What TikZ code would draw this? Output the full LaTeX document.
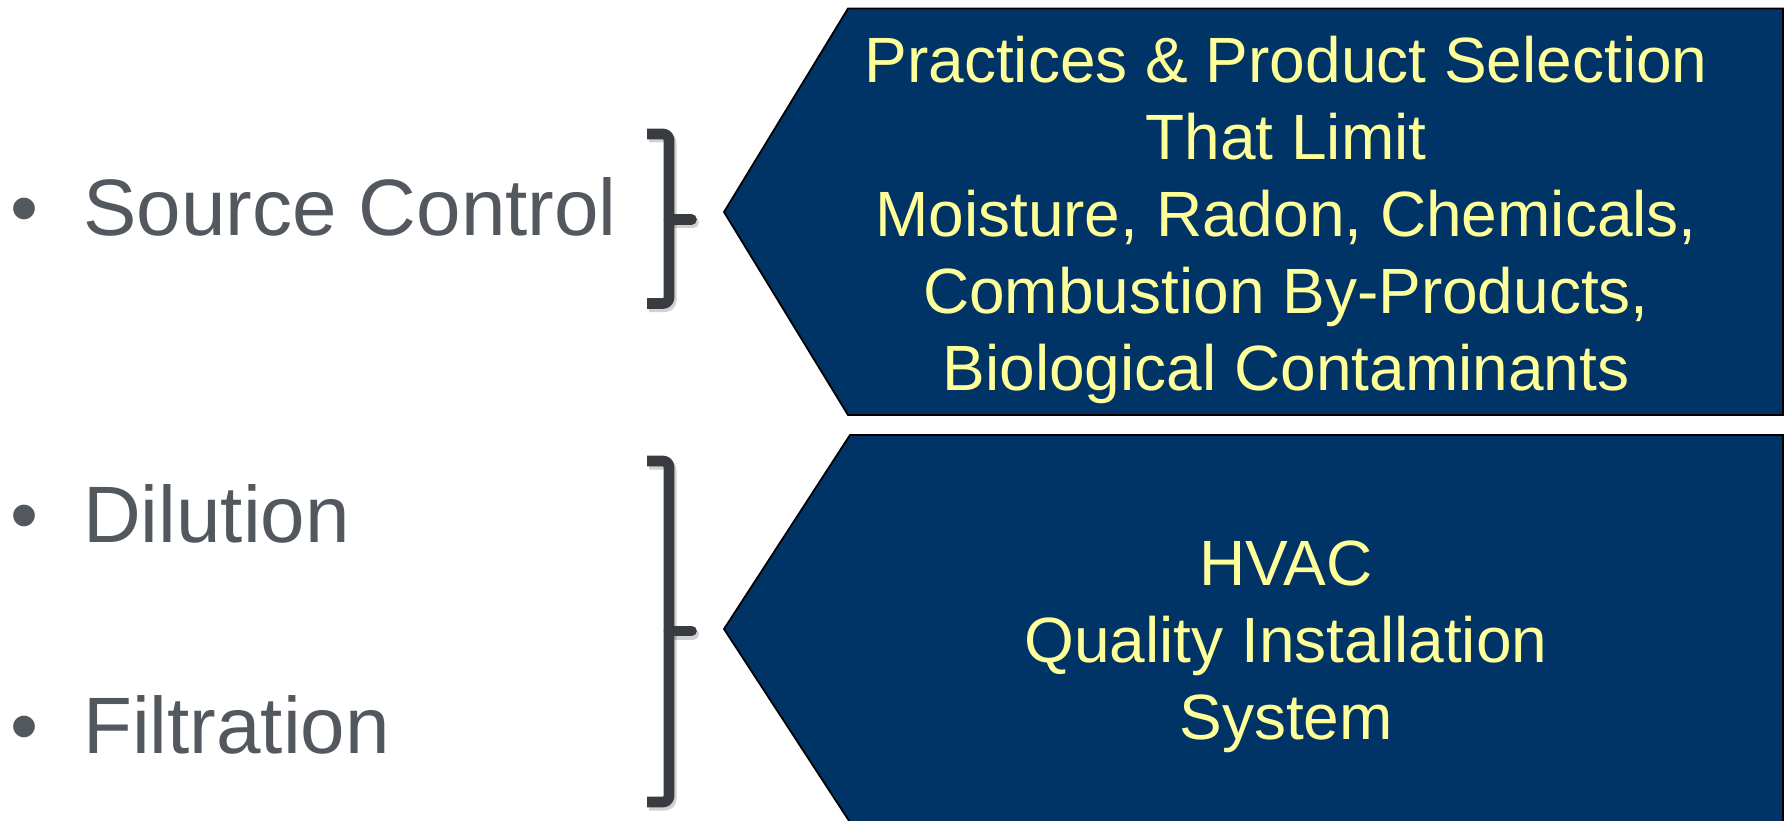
\documentclass[tikz,border=0pt]{standalone}
\usepackage{fontspec}
\setmainfont{Liberation Sans}
\definecolor{navy}{RGB}{0,51,102}
\definecolor{lightyellow}{RGB}{255,255,153}
\definecolor{itemgray}{RGB}{83,88,95}
\definecolor{bracketgray}{RGB}{56,60,64}
\tikzset{
  arrowbox/.style={fill=navy, draw=black, line width=1.8pt, line join=miter},
  itemtext/.style={inner sep=0pt, anchor=base west, text=itemgray, font=\fontsize{80}{96}\selectfont},
  boxtext/.style={inner sep=0pt, anchor=base, align=center, text=lightyellow, font=\fontsize{64}{77}\selectfont},
  bracket/.style={draw=bracketgray, line width=10.7pt, rounded corners=6pt, line cap=butt, line join=round},
  bracketnub/.style={draw=bracketgray, line width=10.7pt, line cap=round},
  bracketshadow/.style={draw=black, opacity=0.18, line width=11pt, rounded corners=6pt, line join=round}
}
\begin{document}
\begin{tikzpicture}[x=1pt,y=-1pt]
\useasboundingbox (0,0) rectangle (1785,821);
\fill[white] (0,0) rectangle (1785,821);
\begin{scope}
\clip (0,0) rectangle (1785,821);
% arrow-shaped boxes
\filldraw[arrowbox] (848,8.5) -- (1783,8.5) -- (1783,415) -- (848,415) -- (724,212) -- cycle;
\filldraw[arrowbox] (850,435) -- (1783,435) -- (1783,830) -- (855,830) -- (724,629) -- cycle;
\end{scope}
% bracket shadows
\begin{scope}[xshift=2pt, yshift=-3pt]
\draw[bracketshadow] (647,134) -- (669,134) -- (669,303.5) -- (647,303.5);
\draw[bracketshadow, line cap=round] (669,219.5) -- (691.5,219.5);
\draw[bracketshadow] (647,461) -- (669,461) -- (669,802) -- (647,802);
\draw[bracketshadow, line cap=round] (669,631) -- (691.5,631);
\end{scope}
% brackets
\draw[bracket] (647,134) -- (669,134) -- (669,303.5) -- (647,303.5);
\draw[bracketnub] (669,219.5) -- (691.5,219.5);
\draw[bracket] (647,461) -- (669,461) -- (669,802) -- (647,802);
\draw[bracketnub] (669,631) -- (691.5,631);
% bullet items
\node[itemtext] (src) at (10,236) {\makebox[73pt][l]{•}Source Control};
\node[itemtext] (dil) at (10,542) {\makebox[73pt][l]{•}Dilution};
\node[itemtext] (fil) at (10,753) {\makebox[73pt][l]{•}Filtration};
% box texts (base anchor = baseline of the last line)
\node[boxtext] (top) at (1286,390.5) {Practices \& Product Selection\\That Limit\\Moisture, Radon, Chemicals,\\Combustion By-Products,\\Biological Contaminants};
\node[boxtext] (bot) at (1286,739.5) {HVAC\\Quality Installation\\System};
\end{tikzpicture}
\end{document}
